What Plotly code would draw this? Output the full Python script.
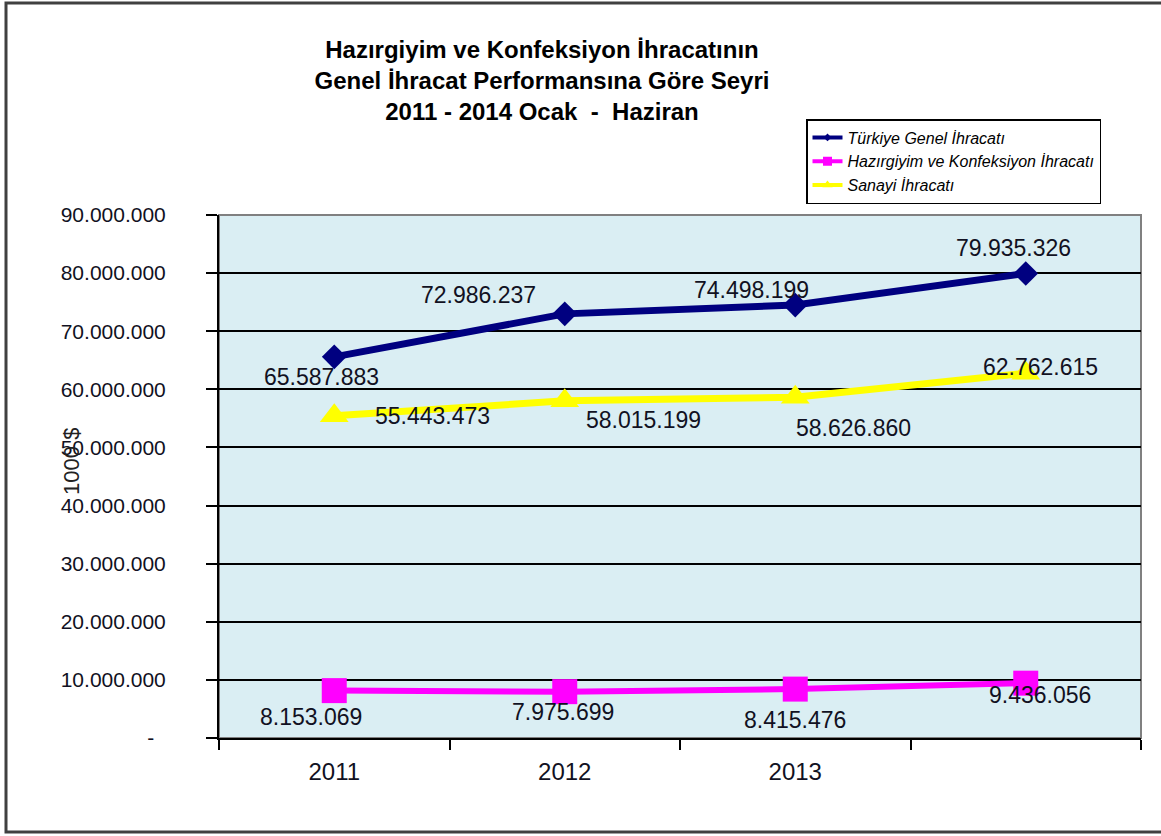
import plotly.graph_objects as go

# ---- data ----
years = ["2011", "2012", "2013", "2014"]
year_labels = ["2011", "2012", "2013", ""]
turkiye_genel = [65587883, 72986237, 74498199, 79935326]
hazirgiyim = [8153069, 7975699, 8415476, 9436056]
sanayi = [55443473, 58015199, 58626860, 62762615]
y_tickvals = [0, 10000000, 20000000, 30000000, 40000000, 50000000, 60000000, 70000000, 80000000, 90000000]
y_ticktext = ["-  ", "10.000.000", "20.000.000", "30.000.000", "40.000.000", "50.000.000",
              "60.000.000", "70.000.000", "80.000.000", "90.000.000"]

names = ["Türkiye Genel İhracatı", "Hazırgiyim ve Konfeksiyon İhracatı", "Sanayi İhracatı"]

# label offsets (pixels) per series
off_turkiye = [(-13, -20), (-86, 19), (-44, 15), (-12, 25)]
off_hazir = [(-23, -26), (-2, -20), (0, -31), (14, -12)]
off_sanayi = [(98, 0), (79, -19), (58, -31), (15, 6)]


def fmt(v):
    return f"{v:,}".replace(",", ".")


FONT = "Liberation Sans, Arial, sans-serif"
NAVY = "#000080"
MAG = "#FF00FF"
YEL = "#FFFF00"

fig = go.Figure()

series = [
    (turkiye_genel, NAVY, "diamond", 19, 7, off_turkiye, 6),
    (hazirgiyim, MAG, "square", 25, 6, off_hazir, 9),
    (sanayi, YEL, "triangle-up", 25, 7, off_sanayi, 9),
]

for (vals, col, sym, msize, lw, offs, lsize), name in zip(series, names):
    fig.add_trace(go.Scatter(
        x=years, y=vals, mode="lines+markers", name=name, showlegend=False,
        line=dict(color=col, width=lw),
        marker=dict(symbol=sym, size=msize, color=col),
        hoverinfo="skip",
    ))

for (vals, col, sym, msize, lw, offs, lsize), name in zip(series, names):
    fig.add_trace(go.Scatter(
        x=[None], y=[None], mode="lines+markers", name=name, showlegend=True,
        line=dict(color=col, width=4),
        marker=dict(symbol=sym, size=lsize, color=col),
    ))

annotations = []
for (vals, col, sym, msize, lw, offs, lsize) in series:
    for i, (yv, (dx, dy)) in enumerate(zip(vals, offs)):
        annotations.append(dict(
            x=i, y=yv, xref="x", yref="y", text=fmt(yv), showarrow=False,
            xanchor="center", yanchor="middle",
            xshift=dx, yshift=dy, font=dict(family=FONT, size=23, color="#111122"),
        ))

# y-axis unit label
annotations.append(dict(
    x=-0.1594, y=0.528, xref="paper", yref="paper", text="1000 $", textangle=-90,
    xanchor="center", yanchor="middle",
    showarrow=False, font=dict(family=FONT, size=22, color="#222222"),
))

fig.update_layout(
    width=1161, height=836,
    margin=dict(l=219, r=20, t=215, b=98),
    paper_bgcolor="white",
    plot_bgcolor="#DAEEF3",
    title=dict(
        text="<b>Hazırgiyim ve Konfeksiyon İhracatının<br>Genel İhracat Performansına Göre Seyri<br>2011 - 2014 Ocak  -  Haziran</b>",
        x=542 / 1161, xanchor="center", xref="container",
        y=(836 - 58) / 836, yanchor="top", yref="container",
        font=dict(family=FONT, size=24, color="#000000"),
    ),
    legend=dict(
        x=(806 - 219) / 922, y=(738 - 119) / 523, xanchor="left", yanchor="top",
        bgcolor="white", bordercolor="#000000", borderwidth=1.5,
        font=dict(family=FONT, size=16, color="#000000", style="italic"),
        tracegroupgap=0,
    ),
    annotations=annotations,
    shapes=[
        dict(type="rect", xref="paper", yref="paper", x0=0, x1=1, y0=0, y1=1,
             line=dict(color="#808080", width=2), layer="below"),
        dict(type="rect", xref="paper", yref="paper",
             x0=(6 - 219) / 922, x1=(1166 - 219) / 922,
             y0=(738 - 832) / 523, y1=(738 - 3) / 523,
             line=dict(color="#404040", width=3), fillcolor="rgba(0,0,0,0)"),
    ],
)

fig.update_xaxes(
    type="category", categoryorder="array", categoryarray=years,
    tickmode="array", tickvals=years, ticktext=year_labels,
    tickson="boundaries", ticks="outside", ticklen=10, tickcolor="#000000", tickwidth=1.5,
    showline=True, linecolor="#000000", linewidth=2,
    showgrid=False, range=[-0.5, 3.5],
    tickfont=dict(family=FONT, size=24, color="#111122"),
    ticklabelstandoff=11,
)

fig.update_yaxes(
    range=[0, 90000000], tickmode="array", tickvals=y_tickvals, ticktext=y_ticktext,
    ticks="outside", ticklen=11, tickcolor="#000000", tickwidth=1.5,
    showline=True, linecolor="#000000", linewidth=2,
    showgrid=True, gridcolor="#000000", gridwidth=1.5,
    zeroline=False,
    tickfont=dict(family=FONT, size=21, color="#111122"),
    ticklabelstandoff=36,
)

fig.write_html("out.html", config={"displayModeBar": False},
               post_script="document.body.style.margin='0';")
